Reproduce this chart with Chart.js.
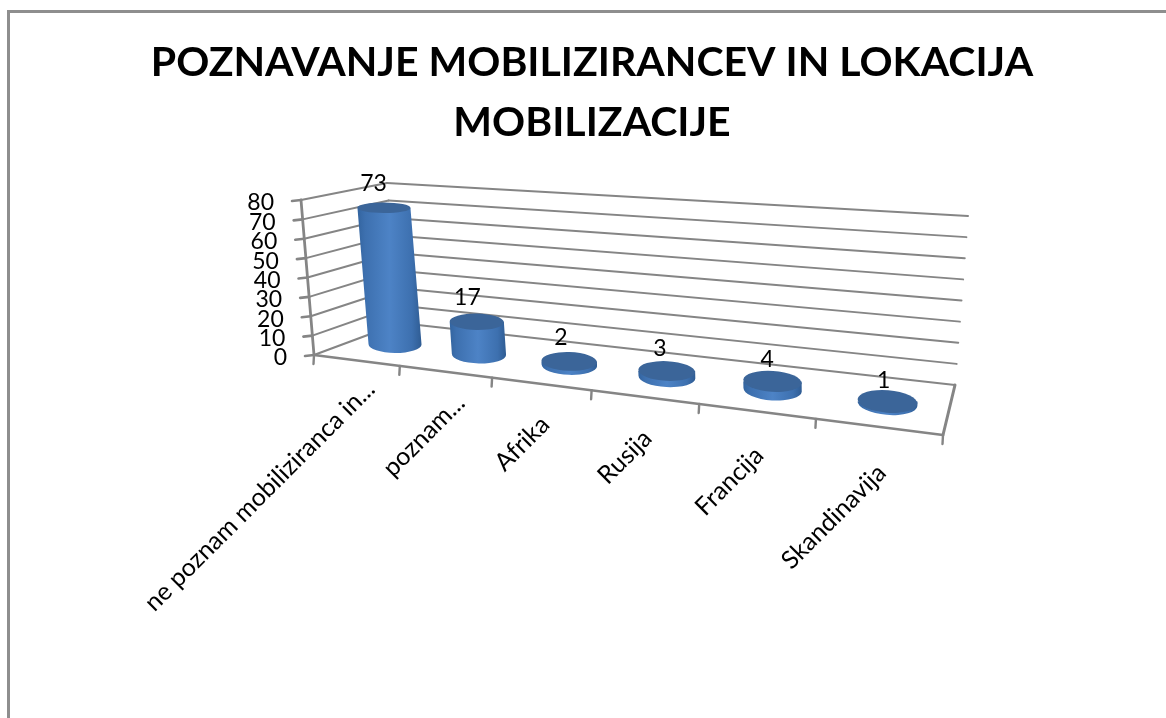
<!DOCTYPE html>
<html><head><meta charset="utf-8">
<style>html,body{margin:0;padding:0;background:#fff}#wrap{width:1166px;height:718px}canvas{display:block;filter:blur(0.4px)}</style>
<script src="https://cdn.jsdelivr.net/npm/chart.js@4/dist/chart.umd.min.js"></script>
</head><body><div id="wrap"><canvas id="c" width="1166" height="718"></canvas></div>
<script>
const titleLines = ['POZNAVANJE MOBILIZIRANCEV IN LOKACIJA', 'MOBILIZACIJE'];
const categories = ['ne poznam mobiliziranca in...', 'poznam...', 'Afrika', 'Rusija', 'Francija', 'Skandinavija'];
const values = [73, 17, 2, 3, 4, 1];
const yMax = 80;
const yStep = 10;

// camera: the corners of the 3D box on screen, used to project the scales' pixels
const box = {
  FL:[314,355], FR:[943,435], BL:[400,323], BR:[955,385],
  FLT:[301,200], FRT:[930,250], BLT:[387,183], BRT:[968,216]
};
const persp = 0.79;
const labelNudge = [[5,-9],[7,-8],[-3,0],[-3,-1],[-2,0],[0,0]];
const lerp = (a,b,s)=>[a[0]+(b[0]-a[0])*s, a[1]+(b[1]-a[1])*s];
const tOf = u => u*persp/(1+u*(persp-1));
function P(u,d,v){
  const t=tOf(u);
  const fl=lerp(lerp(box.FL,box.FR,t),lerp(box.BL,box.BR,t),d);
  const tp=lerp(lerp(box.FLT,box.FRT,t),lerp(box.BLT,box.BRT,t),d);
  return lerp(fl,tp,v);
}
const GRID='#858585', INK='#000', FONT='Lato';

const scene3d = {
  id:'scene3d',
  beforeDraw(chart){
    const c=chart.ctx;
    c.save();
    c.strokeStyle='#8e8e8e'; c.lineWidth=3;
    c.beginPath(); c.moveTo(8.5,718); c.lineTo(8.5,11.5); c.lineTo(1166,11.5); c.stroke();
    c.restore();
  },
  beforeDatasetsDraw(chart){
    const c=chart.ctx, a=chart.chartArea, ys=chart.scales.y, xs=chart.scales.x;
    const line=(p,q,w)=>{c.lineWidth=w;c.beginPath();c.moveTo(p[0],p[1]);c.lineTo(q[0],q[1]);c.stroke();};
    c.save();
    c.strokeStyle=GRID; c.lineCap='round';
    ys.ticks.forEach(tk=>{
      const v=(a.bottom-ys.getPixelForValue(tk.value))/a.height;
      const f=P(0,0,v), b=P(0,1,v), r=P(1,1,v);
      const w=tk.value===0?2.2:2;
      line(f,b,w); line(b,r,w);
      line(f,[f[0]-9,f[1]+1],2.6);
      c.fillStyle=INK; c.font='23px '+FONT; c.textAlign='right'; c.textBaseline='middle';
      c.fillText(String(tk.value), f[0]-27, f[1]+3);
    });
    line(P(0,0,0),P(0,0,1),2.8);
    // floor
    line(P(0,0,0),P(1,0,0),2.4);
    line(P(1,0,0),P(1,1,0),3);
    for(let i=0;i<=categories.length;i++){
      const u=i/categories.length, p=P(u,0,0);
      line(p,[p[0]-0.5,p[1]+9],2.4);
    }
    // category labels
    c.fillStyle=INK; c.font='25px '+FONT; c.textAlign='right'; c.textBaseline='middle';
    categories.forEach((lab,i)=>{
      const u=(xs.getPixelForValue(i)-a.left)/a.width, p=P(u,0,0), t=tOf(u);
      c.save(); c.translate(p[0]+10-7*t+labelNudge[i][0],p[1]+33+10*t+labelNudge[i][1]); c.rotate(-Math.PI/4); c.fillText(lab,0,0); c.restore();
    });
    c.restore();
  },
  beforeDatasetDraw(){ return false; },
  afterDatasetsDraw(chart){
    const c=chart.ctx, a=chart.chartArea, meta=chart.getDatasetMeta(0);
    const floorW=box.FR[0]-box.FL[0];
    c.save();
    meta.data.forEach((el,i)=>{
      const u=(el.x-a.left)/a.width, t=tOf(u), v=(a.bottom-el.y)/a.height;
      const B=P(u,0.48,0), T=P(u,0.48,v);
      const hw=(el.width/a.width)*floorW/2*(1+0.16*t);
      const k=y=>0.2+(y-208)*0.0009;
      const hB=hw*k(B[1]), hT=hw*k(T[1]), rot=0.09*t;
      const g=c.createLinearGradient(Math.min(B[0],T[0])-hw,0,Math.max(B[0],T[0])+hw,0);
      g.addColorStop(0,'#33649f'); g.addColorStop(0.12,'#3d70af'); g.addColorStop(0.5,'#4d83c6');
      g.addColorStop(0.85,'#3d70af'); g.addColorStop(1,'#2f5c93');
      c.fillStyle=g;
      c.beginPath();
      c.moveTo(T[0]-hw,T[1]);
      c.lineTo(B[0]-hw,B[1]);
      c.ellipse(B[0],B[1],hw,hB,rot,Math.PI,0,true);
      c.lineTo(T[0]+hw,T[1]);
      c.closePath(); c.fill();
      c.fillStyle='#3b6599';
      c.beginPath(); c.ellipse(T[0],T[1],hw,hT,rot,0,Math.PI*2); c.fill();
      c.fillStyle=INK; c.font='23px '+FONT; c.textAlign='center'; c.textBaseline='middle';
      c.fillText(String(values[i]),T[0]-11+8*t,T[1]-24+4*t*t);
    });
    c.restore();
  }
};

new Chart(document.getElementById('c'),{
  type:'bar',
  data:{labels:categories,datasets:[{label:'Series',data:values,backgroundColor:'#4f81bd',barPercentage:0.5,categoryPercentage:1}]},
  plugins:[scene3d],
  options:{
    responsive:false,animation:false,
    layout:{padding:{left:18,right:0,top:0,bottom:363}},
    scales:{
      x:{display:false},
      y:{display:false,min:0,max:yMax,ticks:{stepSize:yStep}}
    },
    plugins:{
      legend:{display:false},tooltip:{enabled:false},
      title:{display:true,text:titleLines,color:'#000',font:{family:FONT,size:41,weight:'bold',lineHeight:1.46},padding:{top:33,bottom:10}}
    }
  }
});
</script></body></html>
